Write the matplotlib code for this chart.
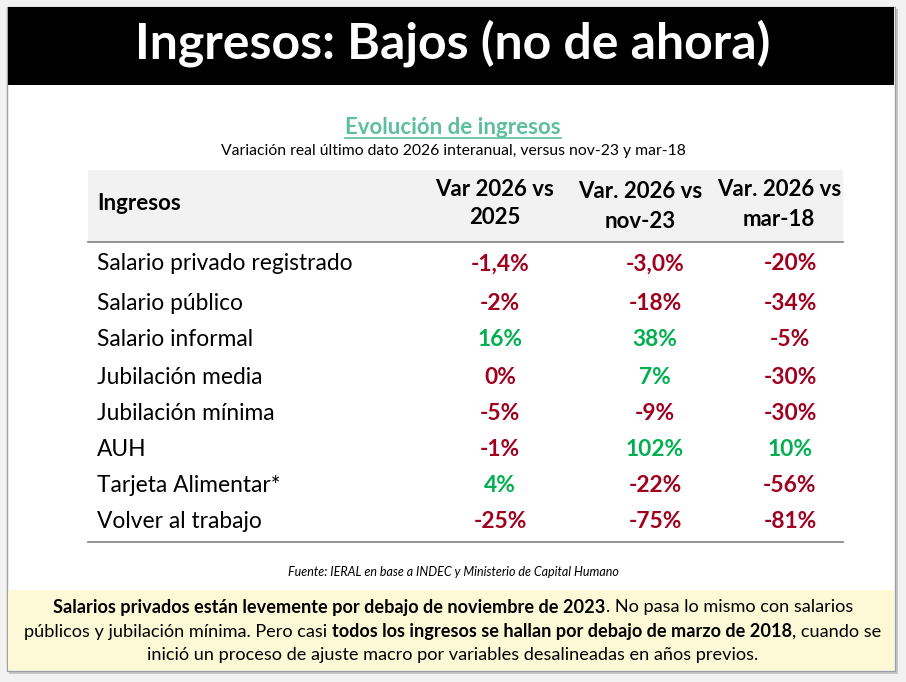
import matplotlib
matplotlib.use("Agg")
import matplotlib.pyplot as plt
from matplotlib.patches import Rectangle

plt.rcParams['font.family'] = ['Lato', 'DejaVu Sans']

# ---------------- data ----------------
title = "Ingresos: Bajos (no de ahora)"
subtitle = "Evolución de ingresos"
subsubtitle = "Variación real último dato 2026 interanual, versus nov-23 y mar-18"
header_first = "Ingresos"
col_headers = ["Var 2026 vs\n2025", "Var. 2026 vs\nnov-23", "Var. 2026 vs\nmar-18"]
categories = ["Salario privado registrado", "Salario público", "Salario informal",
              "Jubilación media", "Jubilación mínima", "AUH",
              "Tarjeta Alimentar*", "Volver al trabajo"]
var_vs_2025 = [-1.4, -2, 16, 0, -5, -1, 4, -25]
var_vs_nov23 = [-3.0, -18, 38, 7, -9, 102, -22, -75]
var_vs_mar18 = [-20, -34, -5, -30, -30, 10, -56, -81]
decimals = [[1, 1, 0]] + [[0, 0, 0]] * 7
source = "Fuente: IERAL en base a INDEC y Ministerio de Capital Humano"
note_lines = [
    [("Salarios privados están levemente por debajo de noviembre de 2023", "bold"),
     (". No pasa lo mismo con salarios", "normal")],
    [("públicos y jubilación mínima. Pero casi ", "normal"),
     ("todos los ingresos se hallan por debajo de marzo de 2018", "bold"),
     (", cuando se", "normal")],
    [("inició un proceso de ajuste macro por variables desalineadas en años previos.", "normal")],
]

RED = "#a0001e"
GREEN = "#00b050"

def fmt(v, d):
    s = f"{v:.{d}f}".replace(".", ",")
    return s + "%"

# ---------------- figure ----------------
W, H = 906, 682
fig = plt.figure(figsize=(W / 100, H / 100), dpi=100)
fig.patch.set_facecolor("#f2f2f2")
ax = fig.add_axes([0, 0, 1, 1])
ax.set_xlim(0, W)
ax.set_ylim(H, 0)
ax.axis("off")

# shadow + slide
ax.add_patch(Rectangle((9, 9), 889, 665, facecolor="#c8c8c8", edgecolor="none", zorder=0))
ax.add_patch(Rectangle((7, 7), 888, 664, facecolor="white", edgecolor="#a0a0a0", lw=1, zorder=1))
# title bar
ax.add_patch(Rectangle((8, 7), 886, 78, facecolor="black", edgecolor="none", zorder=2))
ax.text(453, 43, title, color="white", fontsize=36, fontweight="bold",
        ha="center", va="center", zorder=3)

# subtitle with underline
t = ax.text(453, 127, subtitle, color="#5dbf9c", fontsize=16, fontweight="bold",
            ha="center", va="center", zorder=3)
fig.canvas.draw()
r = fig.canvas.get_renderer()
bb = t.get_window_extent(r)
x0, x1 = bb.x0, bb.x1
ax.plot([x0, x1], [138, 138], color="#5dbf9c", lw=1.2, zorder=3)
ax.text(453, 151, subsubtitle, color="black", fontsize=11.3, ha="center", va="center", zorder=3)

# table
tx0, tx1 = 88, 843
ax.add_patch(Rectangle((tx0, 170), tx1 - tx0, 72, facecolor="#f2f2f2", edgecolor="none", zorder=2))
ax.plot([tx0, tx1], [242, 242], color="#7f7f7f", lw=1.2, zorder=3)
ax.plot([tx0, tx1], [542, 542], color="#7f7f7f", lw=1.2, zorder=3)

ax.text(97, 203, header_first, fontsize=16, fontweight="bold", ha="left", va="center", zorder=3)
head_x = [495, 640, 779]
head_y = [[190, 218], [191, 221], [189, 219]]
for hx, hy, lab in zip(head_x, head_y, col_headers):
    l1, l2 = lab.split("\n")
    ax.text(hx, hy[0], l1, fontsize=16, fontweight="bold", ha="center", va="center", zorder=3)
    ax.text(hx, hy[1], l2, fontsize=16, fontweight="bold", ha="center", va="center", zorder=3)

row_y = [264, 303, 340, 377, 413, 450, 486, 522]
col_x = [500, 655, 790]
cols = [var_vs_2025, var_vs_nov23, var_vs_mar18]
for i, (cat, y) in enumerate(zip(categories, row_y)):
    ax.text(97, y, cat, fontsize=16.4, ha="left", va="center", zorder=3)
    for j, (cx, col) in enumerate(zip(col_x, cols)):
        v = col[i]
        ax.text(cx, y, fmt(v, decimals[i][j]), fontsize=16.4, fontweight="bold",
                color=GREEN if v > 0 else RED, ha="center", va="center", zorder=3)

ax.text(453, 572, source, fontsize=9, style="italic", ha="center", va="center", zorder=3)

# note box
ax.add_patch(Rectangle((8, 590), 886, 80, facecolor="#fdf9d6", edgecolor="none", zorder=2))
note_y = [607, 632, 655]
fs = 13.1
for parts, y in zip(note_lines, note_y):
    widths = []
    for s, w in parts:
        tt = ax.text(0, 0, s, fontsize=fs, fontweight=w)
        widths.append(tt.get_window_extent(r).width)
        tt.remove()
    total = sum(widths)
    x = 453 - total / 2
    for (s, w), wd in zip(parts, widths):
        ax.text(x, y, s, fontsize=fs, fontweight=w, ha="left", va="center", zorder=3)
        x += wd

fig.savefig("out.png", dpi=100, facecolor=fig.get_facecolor())
